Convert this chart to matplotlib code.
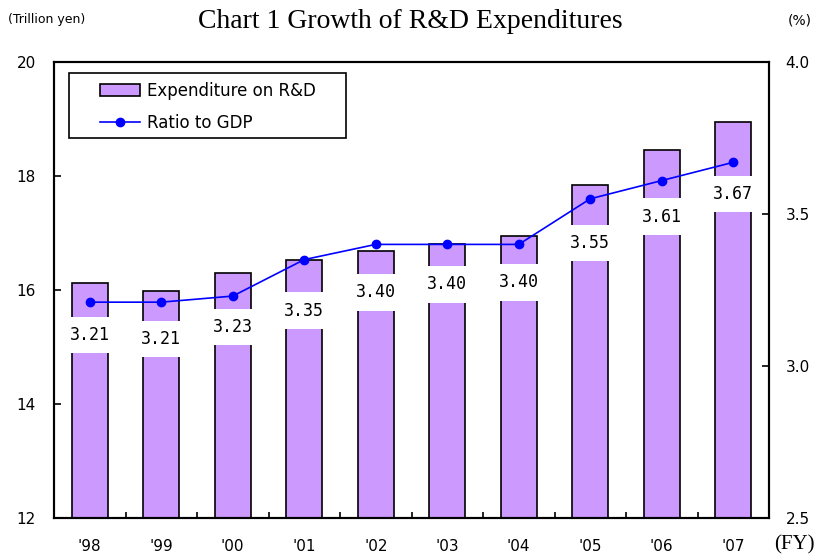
import numpy as np
import matplotlib.pyplot as plt
from matplotlib.patches import Rectangle

years = ["'98", "'99", "'00", "'01", "'02", "'03", "'04", "'05", "'06", "'07"]
expenditure = [16.13, 15.99, 16.29, 16.52, 16.69, 16.80, 16.94, 17.85, 18.46, 18.94]
ratio = [3.21, 3.21, 3.23, 3.35, 3.40, 3.40, 3.40, 3.55, 3.61, 3.67]
# how far (px) each ratio label sits below its point
label_drop = [33, 37, 31, 51, 48, 40, 38, 44, 36, 32]

fig = plt.figure(figsize=(8.18, 5.57), dpi=100)
ax = fig.add_axes([54/818, 1-518/557, 715/818, 456/557])
ax2 = ax.twinx()

x = np.arange(len(years))
ax.bar(x, expenditure, width=0.5, color='#CC99FF', edgecolor='black', linewidth=1.2,
       label='Expenditure on R&D', bottom=0)
ax.set_ylim(12, 20)
ax.set_xlim(-0.5, len(years) - 0.5)
ax.set_yticks([12, 14, 16, 18, 20])
ax.set_xticks(x)
ax.set_xticklabels(years, fontsize=11)
ax.set_xticks(np.arange(-0.5, len(years), 1), minor=True)
ax.tick_params(axis='x', which='major', length=0, pad=15)
ax.tick_params(axis='x', which='minor', direction='in', length=4, width=1.2)
ax.tick_params(axis='y', direction='in', length=5, width=1.2, labelsize=11, pad=13)

ax2.plot(x, ratio, color='#0000FF', marker='o', markersize=6, linewidth=1.2,
         label='Ratio to GDP')
ax2.set_ylim(2.5, 4.0)
ax2.set_yticks([2.5, 3.0, 3.5, 4.0])
ax2.set_yticklabels(['2.5', '3.0', '3.5', '4.0'])
ax2.tick_params(axis='y', direction='in', length=5, width=1.2, labelsize=11, pad=12)

for i, r in enumerate(ratio):
    ax2.annotate(f'{r:.2f}', (x[i], r), xytext=(0, -label_drop[i]), textcoords='offset pixels',
                 ha='center', va='center', fontsize=12, family='DejaVu Sans Mono',
                 bbox=dict(boxstyle='square,pad=0.55', facecolor='white', edgecolor='none'))

for a in (ax, ax2):
    for s in a.spines.values():
        s.set_linewidth(1.5)
        s.set_color('black')

# legend frame drawn by hand, legend itself without frame
ax2.add_patch(Rectangle((15/715, 1 - 76/456), 277/715, 65/456, transform=ax2.transAxes,
                        facecolor='white', edgecolor='black', linewidth=1.2, zorder=4))
h1, l1 = ax.get_legend_handles_labels()
h2, l2 = ax2.get_legend_handles_labels()
leg = ax2.legend(h1 + h2, l1 + l2, loc='upper left', bbox_to_anchor=(46/715, 1 - 20/456),
                 fontsize=12, frameon=False, borderaxespad=0, borderpad=0,
                 handlelength=2.4, handletextpad=0.4, labelspacing=0.85)
leg.set_zorder(5)

fig.text(8/818, 1-20/557, '(Trillion yen)', fontsize=9, va='center', ha='left')
fig.text(410/818, 1-21/557, 'Chart 1 Growth of R&D Expenditures', fontsize=20,
         family='Liberation Serif', va='center', ha='center')
fig.text(812/818, 1-20/557, '(%)', fontsize=10, va='center', ha='right')
fig.text(815/818, 1-545/557, '(FY)', fontsize=15, family='Liberation Serif',
         va='center', ha='right')

fig.savefig('out.png', dpi=100)
